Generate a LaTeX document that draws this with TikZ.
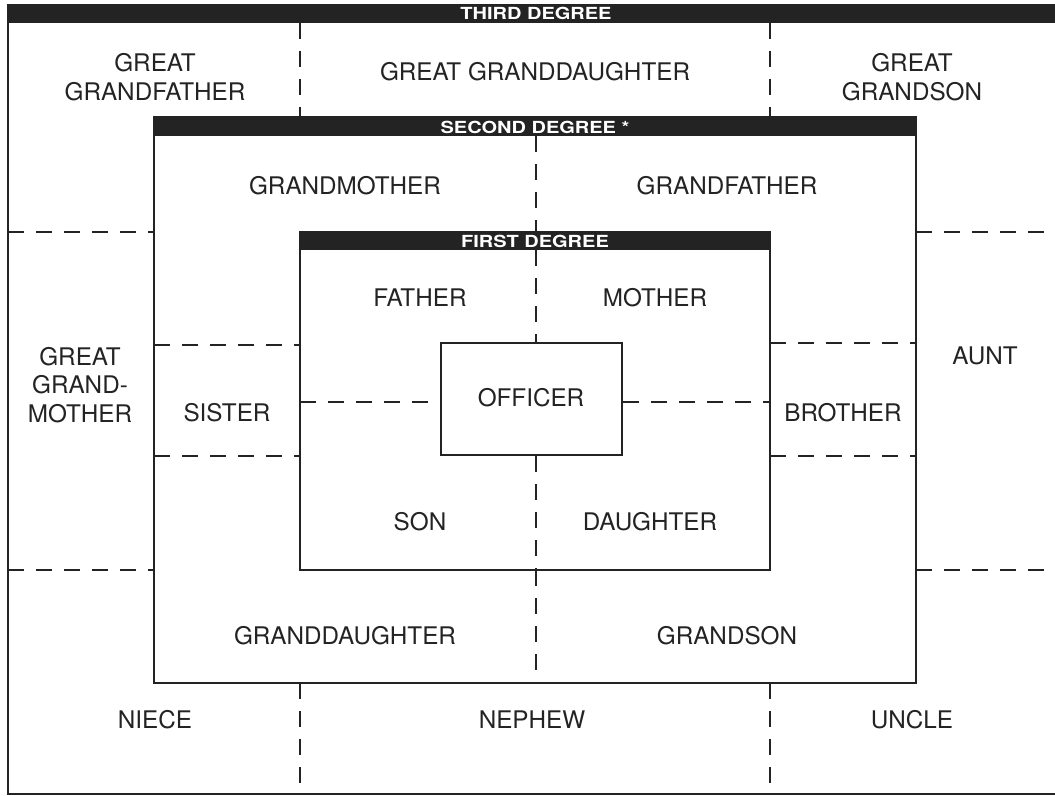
\documentclass[tikz,border=0pt]{standalone}
\usepackage{fontspec}
\setmainfont{TeX Gyre Heros}
\definecolor{ink}{HTML}{232323}
\newcommand{\hdrtext}[1]{\scalebox{1.2}[1]{#1}}
\tikzset{
  frameline/.style={draw=ink, line width=1.5pt},
  dashline/.style={draw=ink, line width=1.5pt, dash pattern=on 12pt off 9pt},
  lbl/.style={font=\fontsize{18.2}{21.5}\selectfont, text=ink, align=center, inner sep=0pt},
  hdr/.style={font=\bfseries\fontsize{12.5}{14}\selectfont, text=white, inner sep=0pt},
}
\begin{document}
\begin{tikzpicture}[x=0.75pt, y=-0.75pt]
\useasboundingbox (0,0) rectangle (1055,795);
\clip (0,0) rectangle (1055,795);
% third degree frame
\draw[frameline] (1060,794) -- (8,794) -- (8,4);
\fill[ink] (8,4) rectangle (1060,23);
\node[hdr] (h3) at (536,13.5) {\hdrtext{THIRD DEGREE}};
% second degree box
\draw[frameline] (154,117) rectangle (916,683);
\fill[ink] (154,117) rectangle (916,136);
\node[hdr] (h2) at (535,127) {\hdrtext{SECOND DEGREE *}};
% first degree box
\draw[frameline] (300,232) rectangle (770,570);
\fill[ink] (300,232) rectangle (770,250);
\node[hdr] (h1) at (535,241.5) {\hdrtext{FIRST DEGREE}};
% officer
\node[draw=ink, line width=1.5pt, minimum width=181*0.75pt, minimum height=112*0.75pt, inner sep=0pt] (off) at (531.5,399) {};
\node[lbl] (offl) at (531,398) {OFFICER};

% dashed dividers: third degree
\draw[dashline] (300,23) -- (300,117);
\draw[dashline] (770,23) -- (770,117);
\draw[dashline] (300,683) -- (300,794);
\draw[dashline] (770,683) -- (770,794);
\draw[dashline] (8,232) -- (154,232);
\draw[dashline] (8,570) -- (154,570);
\draw[dashline] (916,232) -- (1055,232);
\draw[dashline] (916,570) -- (1055,570);
% second degree
\draw[dashline] (536,136) -- (536,232);
\draw[dashline] (536,570) -- (536,683);
\draw[dashline] (154,345) -- (300,345);
\draw[dashline] (154,456) -- (300,456);
\draw[dashline] (770,343) -- (916,343);
\draw[dashline] (770,456) -- (916,456);
% first degree
\draw[dashline] (536,250) -- (off.north -| 536,0);
\draw[dashline] (off.south -| 536,0) -- (536,570);
\draw[dashline] (300,402) -- (off.west |- 0,402);
\draw[dashline] (off.east |- 0,402) -- (770,402);

% labels
\node[lbl] (ggf) at (155,77) {GREAT\\GRANDFATHER};
\node[lbl] (ggd) at (535,72) {GREAT GRANDDAUGHTER};
\node[lbl] (ggs) at (912,77) {GREAT\\GRANDSON};
\node[lbl] (gm) at (345,186) {GRANDMOTHER};
\node[lbl] (gf) at (727,186) {GRANDFATHER};
\node[lbl] (fa) at (420,298) {FATHER};
\node[lbl] (mo) at (655,298) {MOTHER};
\node[lbl] (ggm) at (80,385) {GREAT\\GRAND-\\MOTHER};
\node[lbl] (si) at (227,413) {SISTER};
\node[lbl] (br) at (843,413) {BROTHER};
\node[lbl] (au) at (985,356) {AUNT};
\node[lbl] (so) at (420,522) {SON};
\node[lbl] (da) at (650,522) {DAUGHTER};
\node[lbl] (gd) at (345,636) {GRANDDAUGHTER};
\node[lbl] (gs) at (727,636) {GRANDSON};
\node[lbl] (ni) at (155,720) {NIECE};
\node[lbl] (ne) at (532,720) {NEPHEW};
\node[lbl] (un) at (912,720) {UNCLE};
\end{tikzpicture}
\end{document}
